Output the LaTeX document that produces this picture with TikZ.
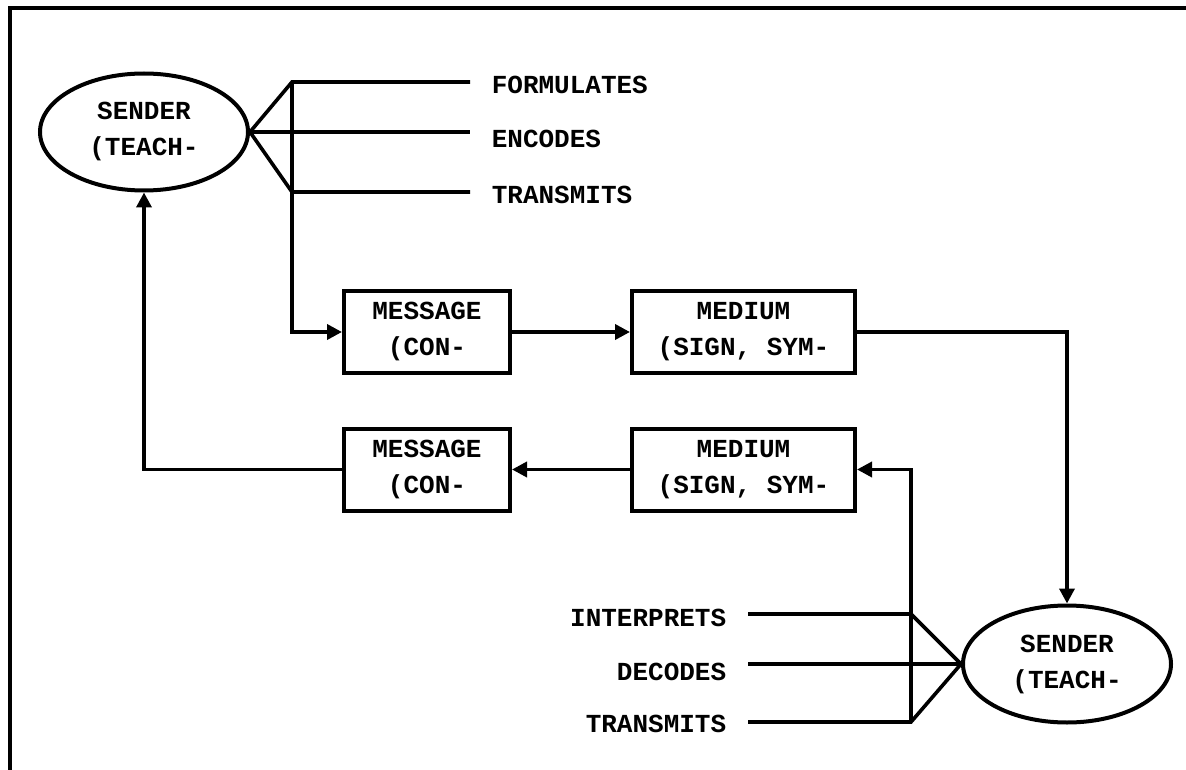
\documentclass[tikz,border=0pt]{standalone}
\usepackage{fontspec}
\setmonofont{Liberation Mono}
\usetikzlibrary{arrows.meta,shapes.geometric}
\begin{document}
\begin{tikzpicture}[x=1pt,y=-1pt,line width=3.6pt,
  every node/.style={font=\fontsize{26}{36}\selectfont\ttfamily\bfseries},
  ell/.style={draw,ellipse,minimum width=208pt,minimum height=117pt,inner sep=0pt,align=center,line width=4pt},
  box/.style={draw,rectangle,minimum height=82pt,inner sep=0pt,align=center,line width=4pt},
  lbl/.style={inner sep=0pt},
  arr/.style={-{Triangle[length=15pt,width=15pt]}}]
\useasboundingbox (0,0) rectangle (1186,770);
\fill[white] (0,0) rectangle (1186,770);
% frame
\draw[line width=4pt] (10,770) -- (10,8.5) -- (1186,8.5);
% nodes
\node[ell] (s1) at (144,132) {SENDER\\(TEACH-};
\node[ell] (s2) at (1067,664) {SENDER\\(TEACH-};
\node[box,minimum width=166pt] (m1) at (427,332) {MESSAGE\\(CON-};
\node[box,minimum width=223pt] (d1) at (743.5,332) {MEDIUM\\(SIGN, SYM-};
\node[box,minimum width=166pt] (m2) at (427,469.5) {MESSAGE\\(CON-};
\node[box,minimum width=223pt] (d2) at (743.5,469.5) {MEDIUM\\(SIGN, SYM-};
% top labels
\node[lbl,anchor=west] (t1) at (490,85) {FORMULATES};
\node[lbl,anchor=west] (t2) at (490,139) {ENCODES};
\node[lbl,anchor=west] (t3) at (490,195) {TRANSMITS};
% bottom labels
\node[lbl,anchor=east] (b1) at (728,618) {INTERPRETS};
\node[lbl,anchor=east] (b2) at (728,672) {DECODES};
\node[lbl,anchor=east] (b3) at (728,724) {TRANSMITS};
% top fan
\coordinate (ja) at (292,82);
\coordinate (jc) at (292,192);
\coordinate (ea) at (470,82);
\coordinate (eb) at (470,132);
\coordinate (ec) at (470,192);
\draw (s1.east) -- (ja) -- (ea);
\draw (s1.east) -- (eb);
\draw (s1.east) -- (jc) -- (ec);
\draw[arr] (ja) |- (m1.west);
\draw[arr] (m1) -- (d1);
\draw[arr] (d1.east) -| (s2.north);
\draw[arr] (d2) -- (m2);
\draw[arr] (m2.west) -| (s1.south);
% bottom fan
\coordinate (ka) at (911,614);
\coordinate (kc) at (911,722);
\coordinate (la) at (748,614);
\coordinate (lb) at (748,664);
\coordinate (lc) at (748,722);
\draw (la) -- (ka) -- (s2.west);
\draw (lb) -- (s2.west);
\draw (lc) -- (kc) -- (s2.west);
\draw[arr] (kc) |- (d2.east);
\end{tikzpicture}
\end{document}
